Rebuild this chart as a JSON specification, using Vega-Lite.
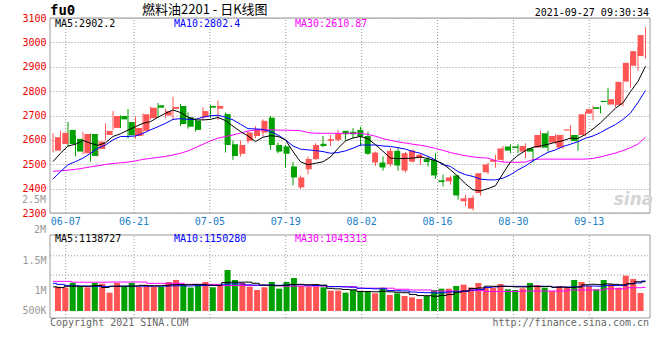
{
"$schema": "https://vega.github.io/schema/vega-lite/v6.json",
"autosize": {"type": "none"},
"padding": {"left": 50, "top": 18, "right": 10, "bottom": 42},
"width": 600,
"height": 300,
"background": "white",
"config": {
 "view": {"stroke": null},
 "axis": {"domain": false, "ticks": false, "labelFont": "DejaVu Sans Mono", "labelFontSize": 10, "labelPadding": 4},
 "text": {"font": "DejaVu Sans Mono", "fontSize": 10}
},
"datasets": {
 "ticks": [{"i":2,"d":"06-07"},{"i":11,"d":"06-21"},{"i":21,"d":"07-05"},{"i":31,"d":"07-19"},{"i":41,"d":"08-02"},{"i":51,"d":"08-16"},{"i":61,"d":"08-30"},{"i":71,"d":"09-13"}],
 "k": [
{"i":0,"d":"06-03","o":2556,"h":2627,"l":2548,"c":2611,"v":1056000,"m5":2511,"m10":2439,"m30":2471,"vm5":1052000,"vm10":1111000,"vm30":1144000},
{"i":1,"d":"06-04","o":2583,"h":2638,"l":2566,"c":2629,"v":1040000,"m5":2545,"m10":2470,"m30":2473,"vm5":1040000,"vm10":1094000,"vm30":1144000},
{"i":2,"d":"06-07","o":2641,"h":2673,"l":2575,"c":2583,"v":1120000,"m5":2575,"m10":2498,"m30":2476,"vm5":1063000,"vm10":1073000,"vm30":1144000},
{"i":3,"d":"06-08","o":2604,"h":2616,"l":2532,"c":2552,"v":1056000,"m5":2582,"m10":2511,"m30":2479,"vm5":1063000,"vm10":1070000,"vm30":1130000},
{"i":4,"d":"06-09","o":2545,"h":2633,"l":2541,"c":2624,"v":1045000,"m5":2598,"m10":2525,"m30":2484,"vm5":1060000,"vm10":1067000,"vm30":1130000},
{"i":5,"d":"06-10","o":2624,"h":2626,"l":2511,"c":2534,"v":1120000,"m5":2586,"m10":2545,"m30":2489,"vm5":1066000,"vm10":1060000,"vm30":1130000},
{"i":6,"d":"06-11","o":2563,"h":2596,"l":2532,"c":2593,"v":1105000,"m5":2578,"m10":2566,"m30":2494,"vm5":1075000,"vm10":1061000,"vm30":1130000},
{"i":7,"d":"06-15","o":2620,"h":2668,"l":2600,"c":2637,"v":955000,"m5":2588,"m10":2579,"m30":2499,"vm5":1042000,"vm10":1060000,"vm30":1130000},
{"i":8,"d":"06-16","o":2649,"h":2718,"l":2641,"c":2698,"v":1120000,"m5":2614,"m10":2600,"m30":2503,"vm5":1062000,"vm10":1061000,"vm30":1133000},
{"i":9,"d":"06-17","o":2698,"h":2701,"l":2648,"c":2684,"v":1067000,"m5":2625,"m10":2614,"m30":2506,"vm5":1064000,"vm10":1062000,"vm30":1133000},
{"i":10,"d":"06-18","o":2673,"h":2727,"l":2605,"c":2619,"v":1120000,"m5":2640,"m10":2614,"m30":2509,"vm5":1064000,"vm10":1064000,"vm30":1133000},
{"i":11,"d":"06-21","o":2616,"h":2695,"l":2605,"c":2649,"v":1056000,"m5":2654,"m10":2616,"m30":2514,"vm5":1065000,"vm10":1066000,"vm30":1133000},
{"i":12,"d":"06-22","o":2637,"h":2709,"l":2616,"c":2705,"v":1083000,"m5":2668,"m10":2627,"m30":2520,"vm5":1078000,"vm10":1064000,"vm30":1133000},
{"i":13,"d":"06-23","o":2689,"h":2736,"l":2684,"c":2732,"v":1056000,"m5":2675,"m10":2641,"m30":2524,"vm5":1071000,"vm10":1064000,"vm30":1111000},
{"i":14,"d":"06-24","o":2742,"h":2751,"l":2693,"c":2732,"v":1056000,"m5":2693,"m10":2654,"m30":2528,"vm5":1070000,"vm10":1064000,"vm30":1111000},
{"i":15,"d":"06-25","o":2700,"h":2729,"l":2689,"c":2718,"v":1133000,"m5":2709,"m10":2668,"m30":2532,"vm5":1077000,"vm10":1065000,"vm30":1111000},
{"i":16,"d":"06-28","o":2727,"h":2777,"l":2684,"c":2735,"v":1167000,"m5":2723,"m10":2684,"m30":2538,"vm5":1088000,"vm10":1069000,"vm30":1111000},
{"i":17,"d":"06-29","o":2739,"h":2747,"l":2657,"c":2665,"v":1100000,"m5":2712,"m10":2687,"m30":2545,"vm5":1090000,"vm10":1071000,"vm30":1111000},
{"i":18,"d":"06-30","o":2693,"h":2712,"l":2646,"c":2654,"v":1040000,"m5":2693,"m10":2684,"m30":2555,"vm5":1088000,"vm10":1067000,"vm30":1094000},
{"i":19,"d":"07-01","o":2679,"h":2689,"l":2634,"c":2641,"v":1100000,"m5":2682,"m10":2684,"m30":2568,"vm5":1093000,"vm10":1070000,"vm30":1094000},
{"i":20,"d":"07-02","o":2693,"h":2734,"l":2682,"c":2718,"v":1133000,"m5":2682,"m10":2693,"m30":2582,"vm5":1093000,"vm10":1074000,"vm30":1094000},
{"i":21,"d":"07-05","o":2739,"h":2743,"l":2689,"c":2732,"v":1045000,"m5":2684,"m10":2699,"m30":2596,"vm5":1080000,"vm10":1074000,"vm30":1094000},
{"i":22,"d":"07-06","o":2728,"h":2761,"l":2682,"c":2739,"v":1083000,"m5":2692,"m10":2701,"m30":2607,"vm5":1079000,"vm10":1075000,"vm30":1094000},
{"i":23,"d":"07-07","o":2706,"h":2712,"l":2548,"c":2579,"v":1333000,"m5":2679,"m10":2693,"m30":2614,"vm5":1124000,"vm10":1096000,"vm30":1075000},
{"i":24,"d":"07-08","o":2582,"h":2597,"l":2518,"c":2534,"v":1167000,"m5":2656,"m10":2682,"m30":2620,"vm5":1131000,"vm10":1102000,"vm30":1075000},
{"i":25,"d":"07-09","o":2543,"h":2597,"l":2532,"c":2579,"v":1120000,"m5":2634,"m10":2664,"m30":2628,"vm5":1130000,"vm10":1101000,"vm30":1075000},
{"i":26,"d":"07-12","o":2596,"h":2634,"l":2586,"c":2630,"v":1056000,"m5":2616,"m10":2646,"m30":2636,"vm5":1131000,"vm10":1086000,"vm30":1075000},
{"i":27,"d":"07-13","o":2616,"h":2657,"l":2607,"c":2643,"v":1000000,"m5":2593,"m10":2645,"m30":2641,"vm5":1112000,"vm10":1081000,"vm30":1075000},
{"i":28,"d":"07-14","o":2630,"h":2684,"l":2614,"c":2678,"v":1045000,"m5":2611,"m10":2643,"m30":2641,"vm5":1083000,"vm10":1081000,"vm30":1075000},
{"i":29,"d":"07-15","o":2691,"h":2698,"l":2559,"c":2579,"v":1133000,"m5":2617,"m10":2634,"m30":2641,"vm5":1080000,"vm10":1082000,"vm30":1075000},
{"i":30,"d":"07-16","o":2579,"h":2589,"l":2545,"c":2552,"v":1022000,"m5":2614,"m10":2620,"m30":2640,"vm5":1070000,"vm10":1078000,"vm30":1075000},
{"i":31,"d":"07-19","o":2573,"h":2579,"l":2488,"c":2543,"v":1133000,"m5":2600,"m10":2600,"m30":2640,"vm5":1078000,"vm10":1082000,"vm30":1065000},
{"i":32,"d":"07-20","o":2491,"h":2510,"l":2413,"c":2446,"v":1200000,"m5":2552,"m10":2575,"m30":2639,"vm5":1090000,"vm10":1088000,"vm30":1065000},
{"i":33,"d":"07-21","o":2405,"h":2454,"l":2398,"c":2446,"v":1067000,"m5":2510,"m10":2562,"m30":2638,"vm5":1094000,"vm10":1088000,"vm30":1065000},
{"i":34,"d":"07-22","o":2480,"h":2532,"l":2458,"c":2522,"v":1056000,"m5":2498,"m10":2559,"m30":2630,"vm5":1087000,"vm10":1080000,"vm30":1065000},
{"i":35,"d":"07-23","o":2521,"h":2586,"l":2518,"c":2579,"v":1056000,"m5":2504,"m10":2556,"m30":2627,"vm5":1090000,"vm10":1074000,"vm30":1065000},
{"i":36,"d":"07-26","o":2584,"h":2616,"l":2570,"c":2575,"v":1045000,"m5":2510,"m10":2552,"m30":2627,"vm5":1081000,"vm10":1073000,"vm30":1065000},
{"i":37,"d":"07-27","o":2596,"h":2620,"l":2575,"c":2603,"v":989000,"m5":2530,"m10":2545,"m30":2627,"vm5":1028000,"vm10":1058000,"vm30":1056000},
{"i":38,"d":"07-28","o":2600,"h":2641,"l":2593,"c":2627,"v":989000,"m5":2565,"m10":2548,"m30":2627,"vm5":1019000,"vm10":1058000,"vm30":1056000},
{"i":39,"d":"07-29","o":2637,"h":2637,"l":2600,"c":2623,"v":956000,"m5":2596,"m10":2555,"m30":2627,"vm5":1009000,"vm10":1051000,"vm30":1056000},
{"i":40,"d":"07-30","o":2633,"h":2648,"l":2607,"c":2623,"v":1000000,"m5":2608,"m10":2566,"m30":2627,"vm5":1003000,"vm10":1046000,"vm30":1056000},
{"i":41,"d":"08-02","o":2641,"h":2654,"l":2575,"c":2614,"v":972000,"m5":2614,"m10":2579,"m30":2627,"vm5":976000,"vm10":1030000,"vm30":1030000},
{"i":42,"d":"08-03","o":2616,"h":2634,"l":2539,"c":2543,"v":972000,"m5":2605,"m10":2579,"m30":2622,"vm5":975000,"vm10":1026000,"vm30":1030000},
{"i":43,"d":"08-04","o":2507,"h":2552,"l":2493,"c":2548,"v":944000,"m5":2580,"m10":2579,"m30":2615,"vm5":970000,"vm10":1020000,"vm30":1030000},
{"i":44,"d":"08-05","o":2507,"h":2532,"l":2474,"c":2487,"v":1039000,"m5":2553,"m10":2575,"m30":2605,"vm5":978000,"vm10":1019000,"vm30":1030000},
{"i":45,"d":"08-06","o":2500,"h":2568,"l":2491,"c":2555,"v":917000,"m5":2525,"m10":2573,"m30":2598,"vm5":970000,"vm10":992000,"vm30":1030000},
{"i":46,"d":"08-09","o":2555,"h":2566,"l":2474,"c":2495,"v":944000,"m5":2523,"m10":2568,"m30":2592,"vm5":962000,"vm10":988000,"vm30":1012000},
{"i":47,"d":"08-10","o":2474,"h":2550,"l":2466,"c":2545,"v":900000,"m5":2524,"m10":2562,"m30":2587,"vm5":955000,"vm10":984000,"vm30":1012000},
{"i":48,"d":"08-11","o":2511,"h":2562,"l":2507,"c":2556,"v":878000,"m5":2525,"m10":2552,"m30":2582,"vm5":926000,"vm10":966000,"vm30":1000000},
{"i":49,"d":"08-12","o":2525,"h":2545,"l":2497,"c":2539,"v":850000,"m5":2530,"m10":2545,"m30":2578,"vm5":907000,"vm10":960000,"vm30":1000000},
{"i":50,"d":"08-13","o":2521,"h":2532,"l":2491,"c":2509,"v":900000,"m5":2523,"m10":2532,"m30":2572,"vm5":905000,"vm10":955000,"vm30":1000000},
{"i":51,"d":"08-16","o":2518,"h":2545,"l":2440,"c":2454,"v":1000000,"m5":2515,"m10":2518,"m30":2565,"vm5":897000,"vm10":951000,"vm30":982000},
{"i":52,"d":"08-17","o":2434,"h":2458,"l":2409,"c":2427,"v":1022000,"m5":2502,"m10":2498,"m30":2557,"vm5":909000,"vm10":954000,"vm30":982000},
{"i":53,"d":"08-18","o":2430,"h":2453,"l":2416,"c":2446,"v":1022000,"m5":2477,"m10":2491,"m30":2548,"vm5":924000,"vm10":967000,"vm30":982000},
{"i":54,"d":"08-19","o":2454,"h":2456,"l":2355,"c":2372,"v":1067000,"m5":2450,"m10":2470,"m30":2541,"vm5":965000,"vm10":969000,"vm30":982000},
{"i":55,"d":"08-20","o":2348,"h":2374,"l":2327,"c":2360,"v":1089000,"m5":2420,"m10":2457,"m30":2535,"vm5":984000,"vm10":977000,"vm30":990000},
{"i":56,"d":"08-23","o":2318,"h":2372,"l":2310,"c":2362,"v":1044000,"m5":2395,"m10":2450,"m30":2530,"vm5":1024000,"vm10":999000,"vm30":990000},
{"i":57,"d":"08-24","o":2382,"h":2464,"l":2371,"c":2463,"v":1117000,"m5":2391,"m10":2439,"m30":2527,"vm5":1034000,"vm10":1010000,"vm30":990000},
{"i":58,"d":"08-25","o":2467,"h":2507,"l":2460,"c":2499,"v":1039000,"m5":2400,"m10":2436,"m30":2525,"vm5":1063000,"vm10":1042000,"vm30":975000},
{"i":59,"d":"08-26","o":2510,"h":2539,"l":2486,"c":2518,"v":1039000,"m5":2412,"m10":2436,"m30":2515,"vm5":1061000,"vm10":1052000,"vm30":975000},
{"i":60,"d":"08-27","o":2518,"h":2575,"l":2510,"c":2565,"v":1100000,"m5":2462,"m10":2443,"m30":2509,"vm5":1062000,"vm10":1062000,"vm30":975000},
{"i":61,"d":"08-30","o":2573,"h":2582,"l":2546,"c":2556,"v":1011000,"m5":2510,"m10":2457,"m30":2508,"vm5":1058000,"vm10":1062000,"vm30":975000},
{"i":62,"d":"08-31","o":2573,"h":2582,"l":2546,"c":2567,"v":1000000,"m5":2537,"m10":2477,"m30":2508,"vm5":1052000,"vm10":1061000,"vm30":975000},
{"i":63,"d":"09-01","o":2552,"h":2586,"l":2525,"c":2575,"v":1028000,"m5":2556,"m10":2493,"m30":2509,"vm5":1051000,"vm10":1061000,"vm30":983000},
{"i":64,"d":"09-02","o":2566,"h":2566,"l":2507,"c":2552,"v":1117000,"m5":2570,"m10":2514,"m30":2519,"vm5":1059000,"vm10":1064000,"vm30":983000},
{"i":65,"d":"09-03","o":2568,"h":2637,"l":2568,"c":2620,"v":1083000,"m5":2575,"m10":2532,"m30":2521,"vm5":1057000,"vm10":1063000,"vm30":983000},
{"i":66,"d":"09-06","o":2627,"h":2637,"l":2552,"c":2568,"v":1039000,"m5":2582,"m10":2549,"m30":2521,"vm5":1060000,"vm10":1060000,"vm30":983000},
{"i":67,"d":"09-07","o":2589,"h":2623,"l":2582,"c":2616,"v":983000,"m5":2590,"m10":2559,"m30":2521,"vm5":1044000,"vm10":1048000,"vm30":983000},
{"i":68,"d":"09-08","o":2568,"h":2621,"l":2563,"c":2620,"v":1067000,"m5":2597,"m10":2573,"m30":2521,"vm5":1048000,"vm10":1050000,"vm30":983000},
{"i":69,"d":"09-09","o":2638,"h":2660,"l":2600,"c":2643,"v":1050000,"m5":2607,"m10":2582,"m30":2521,"vm5":1041000,"vm10":1050000,"vm30":1000000},
{"i":70,"d":"09-10","o":2620,"h":2620,"l":2556,"c":2595,"v":1167000,"m5":2606,"m10":2593,"m30":2521,"vm5":1050000,"vm10":1053000,"vm30":1000000},
{"i":71,"d":"09-13","o":2620,"h":2716,"l":2614,"c":2705,"v":1133000,"m5":2622,"m10":2607,"m30":2521,"vm5":1087000,"vm10":1067000,"vm30":1000000},
{"i":72,"d":"09-14","o":2708,"h":2740,"l":2680,"c":2726,"v":1067000,"m5":2645,"m10":2616,"m30":2524,"vm5":1095000,"vm10":1066000,"vm30":1000000},
{"i":73,"d":"09-15","o":2734,"h":2740,"l":2709,"c":2727,"v":1011000,"m5":2670,"m10":2630,"m30":2530,"vm5":1090000,"vm10":1063000,"vm30":1000000},
{"i":74,"d":"09-16","o":2760,"h":2812,"l":2744,"c":2755,"v":1167000,"m5":2700,"m10":2647,"m30":2538,"vm5":1101000,"vm10":1074000,"vm30":1020000},
{"i":75,"d":"09-17","o":2745,"h":2805,"l":2735,"c":2767,"v":1100000,"m5":2730,"m10":2663,"m30":2546,"vm5":1095000,"vm10":1075000,"vm30":1020000},
{"i":76,"d":"09-22","o":2743,"h":2838,"l":2738,"c":2838,"v":1039000,"m5":2752,"m10":2684,"m30":2556,"vm5":1088000,"vm10":1073000,"vm30":1020000},
{"i":77,"d":"09-23","o":2839,"h":2943,"l":2814,"c":2916,"v":1239000,"m5":2798,"m10":2710,"m30":2568,"vm5":1105000,"vm10":1103000,"vm30":1038000},
{"i":78,"d":"09-24","o":2904,"h":2982,"l":2883,"c":2964,"v":1183000,"m5":2840,"m10":2754,"m30":2583,"vm5":1137000,"vm10":1117000,"vm30":1038000},
{"i":79,"d":"09-27","o":2944,"h":3062,"l":2934,"c":3030,"v":950000,"m5":2902.2,"m10":2802.4,"m30":2610.87,"vm5":1138727,"vm10":1150280,"vm30":1043313}
 ]
},
"data": {"name": "k"},
"resolve": {"scale": {"x": "independent", "y": "independent"}},
"layer": [
 {"data": {"values": [{}]},
  "mark": {"type": "rect", "fillOpacity": 0, "stroke": "#999999", "strokeWidth": 1},
  "encoding": {
   "x": {"datum": -0.4, "type": "quantitative", "scale": {"domain": [-0.4, 79.6], "nice": false, "zero": false}, "axis": null},
   "x2": {"datum": 79.6},
   "y": {"datum": 2300, "type": "quantitative", "scale": {"domain": [2300, 3100], "range": [195, 0], "nice": false, "zero": false}, "axis": null},
   "y2": {"datum": 3100}}},
 {"data": {"values": [{}]},
  "mark": {"type": "rect", "fillOpacity": 0, "stroke": "#999999", "strokeWidth": 1},
  "encoding": {
   "x": {"datum": -0.4, "type": "quantitative", "scale": {"domain": [-0.4, 79.6], "nice": false, "zero": false}, "axis": null},
   "x2": {"datum": 79.6},
   "y": {"datum": 533333, "type": "quantitative", "scale": {"domain": [533333, 1916667], "range": [300, 217], "nice": false, "zero": false}, "axis": null},
   "y2": {"datum": 1916667}}},
 {"data": {"name": "ticks"},
  "mark": {"type": "rule", "color": "#999999", "strokeDash": [1, 2], "strokeWidth": 1},
  "encoding": {
   "x": {"field": "i", "type": "quantitative", "scale": {"domain": [-0.0685, 79.0], "nice": false, "zero": false}, "axis": null},
   "y": {"datum": 2300, "type": "quantitative", "scale": {"domain": [2300, 3100], "range": [195, 0], "nice": false, "zero": false}, "axis": null},
   "y2": {"datum": 3100}}},
 {"data": {"name": "ticks"},
  "mark": {"type": "rule", "color": "#999999", "strokeDash": [1, 2], "strokeWidth": 1},
  "encoding": {
   "x": {"field": "i", "type": "quantitative", "scale": {"domain": [-0.0685, 79.0], "nice": false, "zero": false}, "axis": null},
   "y": {"datum": 533333, "type": "quantitative", "scale": {"domain": [533333, 1916667], "range": [300, 217], "nice": false, "zero": false}, "axis": null},
   "y2": {"datum": 1916667}}},
 {"data": {"name": "ticks"},
  "mark": {"type": "text", "color": "#1a80c8", "baseline": "top", "dy": 4, "align": "center"},
  "encoding": {
   "x": {"field": "i", "type": "quantitative", "scale": {"domain": [-0.0685, 79.0], "nice": false, "zero": false}, "axis": null},
   "y": {"datum": 2300, "type": "quantitative", "scale": {"domain": [2300, 3100], "range": [195, 0], "nice": false, "zero": false}, "axis": null},
   "text": {"field": "d"}}},
 {"data": {"values": [{}]},
  "mark": {"type": "rule", "color": "#999999", "strokeDash": [1, 2], "strokeWidth": 1},
  "encoding": {
   "x": {"datum": -0.4, "type": "quantitative", "scale": {"domain": [-0.4, 79.6], "nice": false, "zero": false}, "axis": null},
   "x2": {"datum": 79.6},
   "y": {"datum": 1570000, "type": "quantitative", "scale": {"domain": [533333, 1916667], "range": [300, 217], "nice": false, "zero": false}, "axis": null}}},
 {"data": {"values": [{}]},
  "mark": {"type": "rule", "color": "#999999", "strokeDash": [1, 2], "strokeWidth": 1},
  "encoding": {
   "x": {"datum": -0.4, "type": "quantitative", "scale": {"domain": [-0.4, 79.6], "nice": false, "zero": false}, "axis": null},
   "x2": {"datum": 79.6},
   "y": {"datum": 1250000, "type": "quantitative", "scale": {"domain": [533333, 1916667], "range": [300, 217], "nice": false, "zero": false}, "axis": null}}},
 {"mark": {"type": "rule", "strokeWidth": 1},
  "encoding": {
   "x": {"field": "i", "type": "quantitative", "scale": {"domain": [-0.4, 79.6], "nice": false, "zero": false}, "axis": null},
   "y": {"field": "l", "type": "quantitative", "scale": {"domain": [2300, 3100], "range": [195, 0], "nice": false, "zero": false},
     "axis": {"orient": "left", "values": [2300, 2400, 2500, 2600, 2700, 2800, 2900, 3000, 3100], "format": "d", "grid": true, "gridColor": "#999999", "gridDash": [1, 2], "gridWidth": 1, "labelColor": "#ee0000", "title": null, "labelPadding": 4, "domain": false, "ticks": false}},
   "y2": {"field": "h"},
   "color": {"condition": {"test": "datum.c >= datum.o", "value": "#ff5555"}, "value": "#00a000"}}},
 {"mark": {"type": "bar", "width": 6},
  "encoding": {
   "x": {"field": "i", "type": "quantitative", "scale": {"domain": [-0.4, 79.6], "nice": false, "zero": false}, "axis": null},
   "y": {"field": "o", "type": "quantitative", "scale": {"domain": [2300, 3100], "range": [195, 0], "nice": false, "zero": false}, "axis": null},
   "y2": {"field": "c"},
   "color": {"condition": {"test": "datum.c >= datum.o", "value": "#ff5555"}, "value": "#00a000"}}},
 {"mark": {"type": "line", "color": "#ff00ff", "strokeWidth": 1},
  "encoding": {
   "x": {"field": "i", "type": "quantitative", "scale": {"domain": [-0.4, 79.6], "nice": false, "zero": false}, "axis": null},
   "y": {"field": "m30", "type": "quantitative", "scale": {"domain": [2300, 3100], "range": [195, 0], "nice": false, "zero": false}, "axis": null}}},
 {"mark": {"type": "line", "color": "#0000ff", "strokeWidth": 1},
  "encoding": {
   "x": {"field": "i", "type": "quantitative", "scale": {"domain": [-0.4, 79.6], "nice": false, "zero": false}, "axis": null},
   "y": {"field": "m10", "type": "quantitative", "scale": {"domain": [2300, 3100], "range": [195, 0], "nice": false, "zero": false}, "axis": null}}},
 {"mark": {"type": "line", "color": "#000000", "strokeWidth": 1},
  "encoding": {
   "x": {"field": "i", "type": "quantitative", "scale": {"domain": [-0.4, 79.6], "nice": false, "zero": false}, "axis": null},
   "y": {"field": "m5", "type": "quantitative", "scale": {"domain": [2300, 3100], "range": [195, 0], "nice": false, "zero": false}, "axis": null}}},
 {"mark": {"type": "bar", "width": 6},
  "encoding": {
   "x": {"field": "i", "type": "quantitative", "scale": {"domain": [-0.4, 79.6], "nice": false, "zero": false}, "axis": null},
   "y": {"field": "v", "type": "quantitative", "scale": {"domain": [533333, 1916667], "range": [300, 217], "nice": false, "zero": false},
     "axis": {"orient": "left", "values": [650000, 1000000, 1500000], "labelExpr": "datum.value == 650000 ? '500K' : datum.value == 1000000 ? '1M' : '1.5M'", "labelColor": "#999999", "grid": false, "title": null, "labelPadding": 4, "domain": false, "ticks": false}},
   "y2": {"datum": 650000},
   "color": {"condition": {"test": "datum.c >= datum.o", "value": "#ff5555"}, "value": "#00a000"}}},
 {"mark": {"type": "line", "interpolate": "step", "color": "#ff00ff", "strokeWidth": 1},
  "encoding": {
   "x": {"field": "i", "type": "quantitative", "scale": {"domain": [-0.4, 79.6], "nice": false, "zero": false}, "axis": null},
   "y": {"field": "vm30", "type": "quantitative", "scale": {"domain": [533333, 1916667], "range": [300, 217], "nice": false, "zero": false}, "axis": null}}},
 {"mark": {"type": "line", "interpolate": "step", "color": "#0000ff", "strokeWidth": 1},
  "encoding": {
   "x": {"field": "i", "type": "quantitative", "scale": {"domain": [-0.4, 79.6], "nice": false, "zero": false}, "axis": null},
   "y": {"field": "vm10", "type": "quantitative", "scale": {"domain": [533333, 1916667], "range": [300, 217], "nice": false, "zero": false}, "axis": null}}},
 {"mark": {"type": "line", "interpolate": "step", "color": "#000000", "strokeWidth": 1},
  "encoding": {
   "x": {"field": "i", "type": "quantitative", "scale": {"domain": [-0.4, 79.6], "nice": false, "zero": false}, "axis": null},
   "y": {"field": "vm5", "type": "quantitative", "scale": {"domain": [533333, 1916667], "range": [300, 217], "nice": false, "zero": false}, "axis": null}}},
 {"data": {"values": [{}]},
  "mark": {"type": "text", "text": "sina", "font": "DejaVu Sans", "fontSize": 17, "fontWeight": "bold", "fontStyle": "italic", "color": "#d4d4d4", "align": "center", "baseline": "alphabetic"},
  "encoding": {"x": {"datum": 77.4, "type": "quantitative", "scale": {"domain": [-0.4, 79.6], "nice": false, "zero": false}, "axis": null},
    "y": {"datum": 2333, "type": "quantitative", "scale": {"domain": [2300, 3100], "range": [195, 0], "nice": false, "zero": false}, "axis": null}}},
 {"data": {"values": [{}]},
  "mark": {"type": "text", "text": "fu0", "fontSize": 14, "fontWeight": "bold", "color": "#000000", "align": "left", "baseline": "alphabetic", "dy": -3},
  "encoding": {"x": {"datum": -0.4, "type": "quantitative", "scale": {"domain": [-0.4, 79.6], "nice": false, "zero": false}, "axis": null},
    "y": {"datum": 3100, "type": "quantitative", "scale": {"domain": [2300, 3100], "range": [195, 0], "nice": false, "zero": false}, "axis": null}}},
 {"data": {"values": [{}]},
  "mark": {"type": "text", "text": "燃料油2201 - 日K线图", "font": "Noto Sans CJK SC", "fontSize": 13, "color": "#000000", "align": "left", "baseline": "alphabetic", "dy": -4},
  "encoding": {"x": {"datum": 11.87, "type": "quantitative", "scale": {"domain": [-0.4, 79.6], "nice": false, "zero": false}, "axis": null},
    "y": {"datum": 3100, "type": "quantitative", "scale": {"domain": [2300, 3100], "range": [195, 0], "nice": false, "zero": false}, "axis": null}}},
 {"data": {"values": [{}]},
  "mark": {"type": "text", "text": "2021-09-27 09:30:34", "color": "#000000", "align": "right", "baseline": "alphabetic", "dy": -2},
  "encoding": {"x": {"datum": 79.47, "type": "quantitative", "scale": {"domain": [-0.4, 79.6], "nice": false, "zero": false}, "axis": null},
    "y": {"datum": 3100, "type": "quantitative", "scale": {"domain": [2300, 3100], "range": [195, 0], "nice": false, "zero": false}, "axis": null}}},
 {"data": {"values": [{}]},
  "mark": {"type": "text", "text": "MA5:2902.2", "color": "#000000", "align": "left", "baseline": "alphabetic", "dy": 9},
  "encoding": {"x": {"datum": 0.27, "type": "quantitative", "scale": {"domain": [-0.4, 79.6], "nice": false, "zero": false}, "axis": null},
    "y": {"datum": 3100, "type": "quantitative", "scale": {"domain": [2300, 3100], "range": [195, 0], "nice": false, "zero": false}, "axis": null}}},
 {"data": {"values": [{}]},
  "mark": {"type": "text", "text": "MA10:2802.4", "color": "#0000ff", "align": "left", "baseline": "alphabetic", "dy": 9},
  "encoding": {"x": {"datum": 16.13, "type": "quantitative", "scale": {"domain": [-0.4, 79.6], "nice": false, "zero": false}, "axis": null},
    "y": {"datum": 3100, "type": "quantitative", "scale": {"domain": [2300, 3100], "range": [195, 0], "nice": false, "zero": false}, "axis": null}}},
 {"data": {"values": [{}]},
  "mark": {"type": "text", "text": "MA30:2610.87", "color": "#ff00ff", "align": "left", "baseline": "alphabetic", "dy": 9},
  "encoding": {"x": {"datum": 32.27, "type": "quantitative", "scale": {"domain": [-0.4, 79.6], "nice": false, "zero": false}, "axis": null},
    "y": {"datum": 3100, "type": "quantitative", "scale": {"domain": [2300, 3100], "range": [195, 0], "nice": false, "zero": false}, "axis": null}}},
 {"data": {"values": [{}]},
  "mark": {"type": "text", "text": "2.5M", "color": "#999999", "align": "right", "baseline": "middle", "dx": -4},
  "encoding": {"x": {"datum": -0.4, "type": "quantitative", "scale": {"domain": [-0.4, 79.6], "nice": false, "zero": false}, "axis": null},
    "y": {"datum": 2500000, "type": "quantitative", "scale": {"domain": [533333, 1916667], "range": [300, 217], "nice": false, "zero": false}, "axis": null}}},
 {"data": {"values": [{}]},
  "mark": {"type": "text", "text": "2M", "color": "#999999", "align": "right", "baseline": "middle", "dx": -4},
  "encoding": {"x": {"datum": -0.4, "type": "quantitative", "scale": {"domain": [-0.4, 79.6], "nice": false, "zero": false}, "axis": null},
    "y": {"datum": 2000000, "type": "quantitative", "scale": {"domain": [533333, 1916667], "range": [300, 217], "nice": false, "zero": false}, "axis": null}}},
 {"data": {"values": [{}]},
  "mark": {"type": "text", "text": "MA5:1138727", "color": "#000000", "align": "left", "baseline": "alphabetic", "dy": 7},
  "encoding": {"x": {"datum": 0.27, "type": "quantitative", "scale": {"domain": [-0.4, 79.6], "nice": false, "zero": false}, "axis": null},
    "y": {"datum": 1916667, "type": "quantitative", "scale": {"domain": [533333, 1916667], "range": [300, 217], "nice": false, "zero": false}, "axis": null}}},
 {"data": {"values": [{}]},
  "mark": {"type": "text", "text": "MA10:1150280", "color": "#0000ff", "align": "left", "baseline": "alphabetic", "dy": 7},
  "encoding": {"x": {"datum": 16.13, "type": "quantitative", "scale": {"domain": [-0.4, 79.6], "nice": false, "zero": false}, "axis": null},
    "y": {"datum": 1916667, "type": "quantitative", "scale": {"domain": [533333, 1916667], "range": [300, 217], "nice": false, "zero": false}, "axis": null}}},
 {"data": {"values": [{}]},
  "mark": {"type": "text", "text": "MA30:1043313", "color": "#ff00ff", "align": "left", "baseline": "alphabetic", "dy": 7},
  "encoding": {"x": {"datum": 32.27, "type": "quantitative", "scale": {"domain": [-0.4, 79.6], "nice": false, "zero": false}, "axis": null},
    "y": {"datum": 1916667, "type": "quantitative", "scale": {"domain": [533333, 1916667], "range": [300, 217], "nice": false, "zero": false}, "axis": null}}},
 {"data": {"values": [{}]},
  "mark": {"type": "text", "text": "Copyright 2021 SINA.COM", "color": "#666666", "align": "left", "baseline": "alphabetic", "dy": 8},
  "encoding": {"x": {"datum": -0.4, "type": "quantitative", "scale": {"domain": [-0.4, 79.6], "nice": false, "zero": false}, "axis": null},
    "y": {"datum": 533333, "type": "quantitative", "scale": {"domain": [533333, 1916667], "range": [300, 217], "nice": false, "zero": false}, "axis": null}}},
 {"data": {"values": [{}]},
  "mark": {"type": "text", "text": "http://finance.sina.com.cn", "color": "#666666", "align": "right", "baseline": "alphabetic", "dy": 8},
  "encoding": {"x": {"datum": 79.47, "type": "quantitative", "scale": {"domain": [-0.4, 79.6], "nice": false, "zero": false}, "axis": null},
    "y": {"datum": 533333, "type": "quantitative", "scale": {"domain": [533333, 1916667], "range": [300, 217], "nice": false, "zero": false}, "axis": null}}}
]
}
